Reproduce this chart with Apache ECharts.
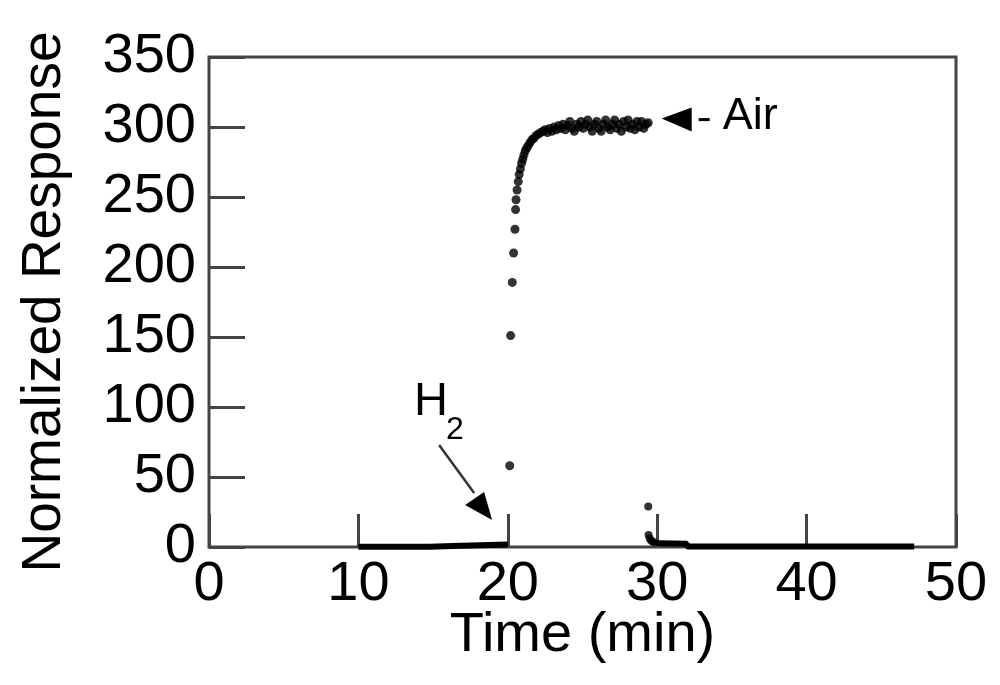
<!DOCTYPE html>
<html>
<head>
<meta charset="utf-8">
<script src="https://cdn.jsdelivr.net/npm/echarts@6/dist/echarts.min.js"></script>
<style>
  html, body { margin: 0; padding: 0; background: #fff; }
  #chart { width: 1000px; height: 685px; }
</style>
</head>
<body>
<div id="chart"></div>
<script>
// x ticks (min) and y ticks (normalized response)
var xTicks = [0, 10, 20, 30, 40, 50];
var yTicks = [0, 50, 100, 150, 200, 250, 300, 350];

// H2 exposure baseline (drawn as thick trace)
var h2Base = [[10, 0.2], [14.8, 0.2], [14.8, 0.7], [16.3, 0.8], [16.3, 1.8], [20, 1.8]];

// rise and plateau in air (individual points)
var airRise = [
  [20.13, 58], [20.19, 151], [20.3, 189], [20.39, 210], [20.48, 227],
  [20.52, 241], [20.55, 248], [20.62, 255], [20.7, 261], [20.76, 266],
  [20.84, 270], [20.92, 274], [21.0, 277], [21.08, 280], [21.17, 283],
  [21.27, 285], [21.38, 287], [21.5, 289], [21.62, 291], [21.75, 292],
  [21.9, 294], [22.05, 295], [22.2, 296], [22.35, 297], [22.5, 298],
  [22.65, 296], [22.8, 299], [22.95, 297], [23.1, 300], [23.25, 298],
  [23.4, 301], [23.55, 299], [23.7, 302], [23.85, 298], [24.0, 301],
  [24.15, 304], [24.3, 299], [24.45, 297], [24.6, 302], [24.75, 300],
  [24.9, 304], [25.05, 299], [25.2, 302], [25.35, 305], [25.5, 300],
  [25.65, 297], [25.8, 302], [25.95, 304], [26.1, 299], [26.25, 297],
  [26.4, 302], [26.55, 305], [26.7, 300], [26.85, 298], [27.0, 302],
  [27.15, 305], [27.3, 299], [27.45, 302], [27.6, 297], [27.75, 304],
  [27.9, 300], [28.05, 305], [28.2, 299], [28.35, 302], [28.5, 298],
  [28.65, 304], [28.8, 300], [28.95, 304], [29.1, 299], [29.25, 302],
  [29.4, 303]
];

// switch back to H2 after ~29.4 min
var h2Drop = [[29.4, 29], [29.42, 8.5], [29.5, 6], [29.6, 4.5], [29.75, 3.5]];
var h2Tail = [[29.6, 3.5], [30.2, 2.6], [32, 2.4], [32, 0.3], [47.2, 0.3]];

var chart = echarts.init(document.getElementById('chart'));
var font = '"Liberation Sans", Arial, sans-serif';
var axisColor = '#444';

var option = {
  animation: false,
  backgroundColor: '#fff',
  grid: {
    left: 209, top: 57, right: 44, bottom: 138,
    show: true, borderColor: axisColor, borderWidth: 3
  },
  xAxis: {
    type: 'value', min: 0, max: 50, interval: 10,
    name: 'Time (min)', nameLocation: 'middle', nameGap: 61, nameMoveOverlap: false,
    nameTextStyle: { color: '#000', fontSize: 56, fontFamily: font },
    axisLine: { show: false },
    axisTick: { inside: true, length: 33, lineStyle: { color: axisColor, width: 3 } },
    axisLabel: { color: '#000', fontSize: 56, fontFamily: font, margin: 10 },
    splitLine: { show: false }
  },
  yAxis: {
    type: 'value', min: 0, max: 350, interval: 50,
    name: 'Normalized Response', nameLocation: 'middle', nameGap: 137,
    nameTextStyle: { color: '#000', fontSize: 55, fontFamily: font },
    axisLine: { show: false },
    axisTick: { inside: true, length: 36, lineStyle: { color: axisColor, width: 3 } },
    axisLabel: { color: '#000', fontSize: 56, fontFamily: font, margin: 13 },
    splitLine: { show: false }
  },
  series: [
    {
      type: 'line', data: h2Base, symbol: 'none',
      lineStyle: { color: '#000', width: 6 }
    },
    {
      type: 'scatter', data: airRise, symbol: 'circle', symbolSize: 9,
      itemStyle: { color: '#000' }
    },
    {
      type: 'scatter', data: h2Drop, symbol: 'circle', symbolSize: 8,
      itemStyle: { color: '#000' }
    },
    {
      type: 'line', data: h2Tail, symbol: 'none',
      lineStyle: { color: '#000', width: 6 }
    }
  ]
};
chart.setOption(option);

// annotations anchored to data positions
function p(x, y) { return chart.convertToPixel({ gridIndex: 0 }, [x, y]); }
var air = p(30.3, 306);
var h2 = p(18.95, 19.3);

chart.setOption({
  graphic: [
    {
      type: 'polygon',
      shape: { points: [[air[0], air[1]], [air[0] + 30, air[1] - 11], [air[0] + 30, air[1] + 13]] },
      style: { fill: '#000' }
    },
    {
      type: 'line',
      shape: { x1: air[0] + 37, y1: air[1] + 1, x2: air[0] + 48, y2: air[1] + 1 },
      style: { stroke: '#000', lineWidth: 3 }
    },
    {
      type: 'text', x: air[0] + 61, y: air[1] + 20,
      style: { text: 'Air', fill: '#000', font: '45px ' + font, textVerticalAlign: 'bottom' }
    },
    {
      type: 'polygon',
      shape: { points: [[h2[0], h2[1]], [h2[0] - 27, h2[1] - 15], [h2[0] - 8, h2[1] - 28]] },
      style: { fill: '#000' }
    },
    {
      type: 'line',
      shape: { x1: h2[0] - 53, y1: h2[1] - 75, x2: h2[0] - 18, y2: h2[1] - 27 },
      style: { stroke: '#333', lineWidth: 2.5 }
    },
    {
      type: 'text', x: h2[0] - 78, y: h2[1] - 94,
      style: { text: 'H', fill: '#000', font: '47px ' + font, textVerticalAlign: 'bottom' }
    },
    {
      type: 'text', x: h2[0] - 46, y: h2[1] - 74,
      style: { text: '2', fill: '#000', font: '32px ' + font, textVerticalAlign: 'bottom' }
    }
  ]
});
</script>
</body>
</html>
